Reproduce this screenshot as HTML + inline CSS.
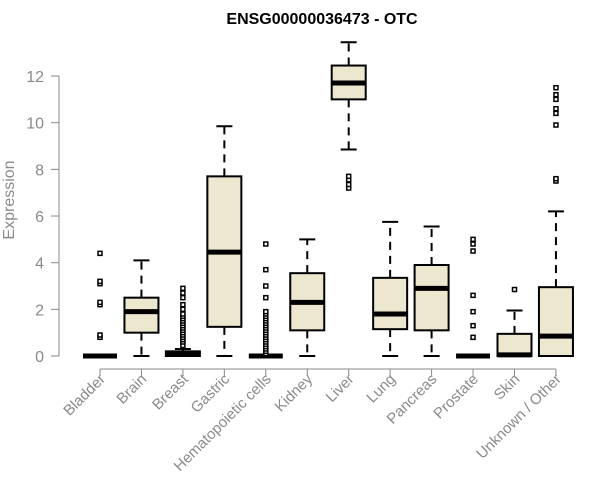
<!DOCTYPE html>
<html><head><meta charset="utf-8"><style>body{margin:0;background:#fff}svg{display:block}</style></head>
<body>
<svg id="chart" width="600" height="500" font-family="Liberation Sans, sans-serif"></svg>
<script>
const categories=["Bladder","Brain","Breast","Gastric","Hematopoietic cells","Kidney","Liver","Lung","Pancreas","Prostate","Skin","Unknown / Other"];
const q1=[0,1.0,0,1.25,0,1.1,11.0,1.15,1.1,0,0,0];
const medians=[0,1.9,0.1,4.45,0,2.3,11.7,1.8,2.9,0,0.05,0.85];
const q3=[0,2.5,0.2,7.7,0,3.55,12.45,3.35,3.9,0,0.95,2.95];
const whiskLo=[0,0,0,0,0,0,8.85,0,0,0,0,0];
const whiskHi=[0,4.1,0.3,9.85,0,5.0,13.45,5.75,5.55,0,1.95,6.2];
const outliers=[[0.8,0.9,2.2,2.3,3.1,3.2,4.4],[],[0.45,0.6,0.7,0.8,0.9,1.0,1.1,1.2,1.3,1.4,1.5,1.6,1.7,1.8,2.0,2.2,2.5,2.7,2.9],[],[0.1,0.2,0.3,0.4,0.5,0.6,0.7,0.8,0.9,1.0,1.1,1.2,1.3,1.4,1.5,1.6,1.7,1.8,1.9,2.5,3.0,3.7,4.8],[],[7.2,7.35,7.55,7.7],[],[],[0.8,1.3,1.9,2.6,4.5,4.8,5.0],[2.85],[7.5,7.6,9.9,10.4,10.6,11.0,11.2,11.5]];
const yTicks=[0,2,4,6,8,10,12];
const NS="http://www.w3.org/2000/svg";
const svg=document.getElementById('chart');
const y=v=>356-v*23.33;
const x=i=>100+i*41.45;
function el(t,a,p){const e=document.createElementNS(NS,t);for(const k in a)e.setAttribute(k,a[k]);(p||svg).appendChild(e);return e;}
const title=el('text',{x:322,y:24,'text-anchor':'middle','font-size':16,'font-weight':'bold',fill:'#000'});title.textContent="ENSG00000036473 - OTC";


const yax=el('g',{});


el('line',{x1:59,x2:59,y1:y(0),y2:y(12),stroke:'#888'},yax);
yTicks.forEach(t=>{el('line',{x1:51,x2:59,y1:y(t),y2:y(t),stroke:'#888'},yax);
const tx=el('text',{x:44,y:y(t)+6,'text-anchor':'end','font-size':16,fill:'#8a8a8a'},yax);tx.textContent=t;});
const yt=el('text',{x:14,y:200,'text-anchor':'middle','font-size':16,fill:'#8a8a8a',transform:'rotate(-90 14 200)'});yt.textContent="Expression";


const xax=el('g',{});


el('line',{x1:x(0),x2:x(11),y1:369,y2:369,stroke:'#888'},xax);
categories.forEach((c,i)=>{el('line',{x1:x(i),x2:x(i),y1:369,y2:376,stroke:'#888'},xax);
const t=el('text',{x:x(i)+6,y:380,'text-anchor':'end','font-size':15,fill:'#8a8a8a',transform:`rotate(-45 ${x(i)+6} 380)`},xax);t.textContent=c;});
categories.forEach((c,i)=>{
const g=el('g',{});


const cx=x(i),w=17;
el('line',{x1:cx,x2:cx,y1:y(q3[i]),y2:y(whiskHi[i]),stroke:'#000','stroke-width':2,'stroke-dasharray':'8,6'},g);
el('line',{x1:cx,x2:cx,y1:y(q1[i]),y2:y(whiskLo[i]),stroke:'#000','stroke-width':2,'stroke-dasharray':'8,6'},g);
el('line',{x1:cx-8,x2:cx+8,y1:y(whiskHi[i]),y2:y(whiskHi[i]),stroke:'#000','stroke-width':2},g);
el('line',{x1:cx-8,x2:cx+8,y1:y(whiskLo[i]),y2:y(whiskLo[i]),stroke:'#000','stroke-width':2},g);
el('rect',{x:cx-w,y:y(q3[i]),width:2*w,height:Math.max(0,y(q1[i])-y(q3[i])),fill:'#ede7cf',stroke:'#000','stroke-width':2},g);
el('line',{x1:cx-w,x2:cx+w,y1:y(medians[i]),y2:y(medians[i]),stroke:'#000','stroke-width':5},g);
outliers[i].forEach(o=>el('rect',{x:cx-2,y:y(o)-2,width:4,height:4,fill:'#fff',stroke:'#000','stroke-width':1.5},g));
});
</script>
</body></html>
